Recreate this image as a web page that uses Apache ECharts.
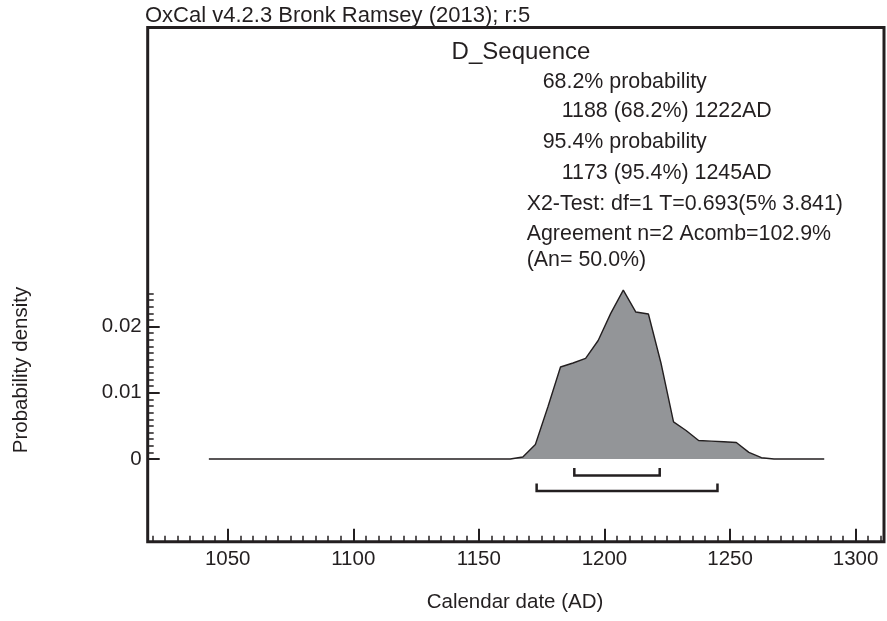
<!DOCTYPE html>
<html>
<head>
<meta charset="utf-8">
<script src="https://cdn.jsdelivr.net/npm/echarts@6/dist/echarts.min.js"></script>
<style>html,body{margin:0;padding:0;background:#fff}#c{width:887px;height:621px}</style>
</head>
<body>
<div id="c"></div>
<script>
// ---- data ----
const years = [1042.5, 1162.5, 1167.5, 1172.5, 1177.5, 1182.5, 1187.5, 1192.5, 1197.5, 1202.5, 1207.5, 1212.5, 1217.5, 1222.5, 1227.5, 1232.5, 1237.5, 1242.5, 1247.5, 1252.5, 1257.5, 1262.5, 1267.5, 1287.5];
const density = [0, 0, 0.0003, 0.0022, 0.0079, 0.0139, 0.0145, 0.0152, 0.0179, 0.0220, 0.0255, 0.0222, 0.0219, 0.0145, 0.0056, 0.0043, 0.0028, 0.0027, 0.0026, 0.0025, 0.0010, 0.0002, 0, 0];
const range68 = [1188, 1222];
const range95 = [1173, 1245];
const xMajorTicks = [1050, 1100, 1150, 1200, 1250, 1300];
const yMajorTicks = [0, 0.01, 0.02];
const headerText = 'OxCal v4.2.3 Bronk Ramsey (2013); r:5';
const seriesName = 'D_Sequence';
const infoLines = [
  '68.2% probability',
  '1188 (68.2%) 1222AD',
  '95.4% probability',
  '1173 (95.4%) 1245AD',
  'X2-Test: df=1 T=0.693(5% 3.841)',
  'Agreement n=2 Acomb=102.9%',
  '(An= 50.0%)'
];
const xAxisName = 'Calendar date (AD)';
const yAxisName = 'Probability density';

// ---- derived ----
const xMinorTicks = [];
for (let k = 1020; k <= 1310; k += 5) if (k % 50 !== 0) xMinorTicks.push(k);
const yMinorTicks = [];
for (let k = 1; k <= 25; k++) if (k % 10 !== 0) yMinorTicks.push(+(k * 0.001).toFixed(3));

const INK = '#231f20';
const FONT = '"Liberation Sans", Arial, Helvetica, sans-serif';
const xMin = 1018.15, xMax = 1311.3;
const yMin = -0.01249, yMax = 0.06518;

const chart = echarts.init(document.getElementById('c'), null, {renderer: 'canvas'});

const lineLeft = [542.7, 561.7, 542.7, 561.7, 526.7, 526.7, 526.7];
const lineY = [82, 111, 142, 173, 204, 234, 260];

const graphics = [
  {type: 'text', x: 145, y: 16, style: {text: headerText, fontSize: 22, fontFamily: FONT, fill: INK, align: 'left', verticalAlign: 'middle'}},
  {type: 'text', x: 521, y: 52, style: {text: seriesName, fontSize: 24, fontFamily: FONT, fill: INK, align: 'center', verticalAlign: 'middle'}},
  {type: 'text', x: 515, y: 602, style: {text: xAxisName, fontSize: 20.5, fontFamily: FONT, fill: INK, align: 'center', verticalAlign: 'middle'}},
  {type: 'text', x: 21, y: 370, rotation: Math.PI / 2, style: {text: yAxisName, fontSize: 20.5, fontFamily: FONT, fill: INK, align: 'center', verticalAlign: 'middle'}}
];
infoLines.forEach((t, i) => {
  graphics.push({type: 'text', x: lineLeft[i], y: lineY[i], style: {text: t, fontSize: 21.4, fontFamily: FONT, fill: INK, align: 'left', verticalAlign: 'middle'}});
});

const option = {
  animation: false,
  backgroundColor: '#fff',
  grid: {left: 147.7, right: 3, top: 27.5, bottom: 79.3, show: true, borderWidth: 3, borderColor: INK, backgroundColor: 'transparent'},
  xAxis: [{
    type: 'value', min: xMin, max: xMax,
    axisLine: {show: false, onZero: false}, splitLine: {show: false},
    axisTick: {show: true, inside: true, length: 13, lineStyle: {width: 2, color: INK}, customValues: xMajorTicks},
    axisLabel: {show: true, customValues: xMajorTicks, fontSize: 20.5, fontFamily: FONT, color: INK, margin: 7,
      formatter: v => String(Math.round(v))}
  }, {
    type: 'value', min: xMin, max: xMax, position: 'bottom',
    axisLine: {show: false, onZero: false}, splitLine: {show: false}, axisLabel: {show: false},
    axisTick: {show: true, inside: true, length: 6, lineStyle: {width: 1.5, color: INK}, customValues: xMinorTicks}
  }],
  yAxis: [{
    type: 'value', min: yMin, max: yMax,
    axisLine: {show: false, onZero: false}, splitLine: {show: false},
    axisTick: {show: true, inside: true, length: 12, lineStyle: {width: 2, color: INK}, customValues: yMajorTicks},
    axisLabel: {show: true, customValues: yMajorTicks, fontSize: 20.5, fontFamily: FONT, color: INK, margin: 6,
      formatter: v => (Math.abs(v) < 1e-9 ? '0' : (+v.toFixed(3)).toString())}
  }, {
    type: 'value', min: yMin, max: yMax, position: 'left',
    axisLine: {show: false, onZero: false}, splitLine: {show: false}, axisLabel: {show: false},
    axisTick: {show: true, inside: true, length: 6, lineStyle: {width: 1.5, color: INK}, customValues: yMinorTicks}
  }],
  graphic: graphics,
  series: [{
    type: 'line',
    xAxisIndex: 0, yAxisIndex: 0,
    data: years.map((x, i) => [x, density[i]]),
    symbol: 'none',
    lineStyle: {color: INK, width: 1.4},
    areaStyle: {color: '#939598', opacity: 1},
    z: 3
  }, {
    type: 'custom',
    xAxisIndex: 0, yAxisIndex: 0,
    data: [[range68[0], range68[1], 0], [range95[0], range95[1], 1]],
    encode: {x: [0, 1]},
    renderItem: function (params, api) {
      const a = api.coord([api.value(0), 0]);
      const b = api.coord([api.value(1), 0]);
      const lvl = api.value(2);
      const drop = lvl === 0 ? 16.5 : 32;
      const yb = a[1] + drop;
      const yt = yb - 7.5;
      return {
        type: 'polyline',
        shape: {points: [[a[0], yt], [a[0], yb], [b[0], yb], [b[0], yt]]},
        style: {stroke: INK, lineWidth: 2.5, fill: null}
      };
    },
    z: 4
  }]
};
chart.setOption(option);
</script>
</body>
</html>
